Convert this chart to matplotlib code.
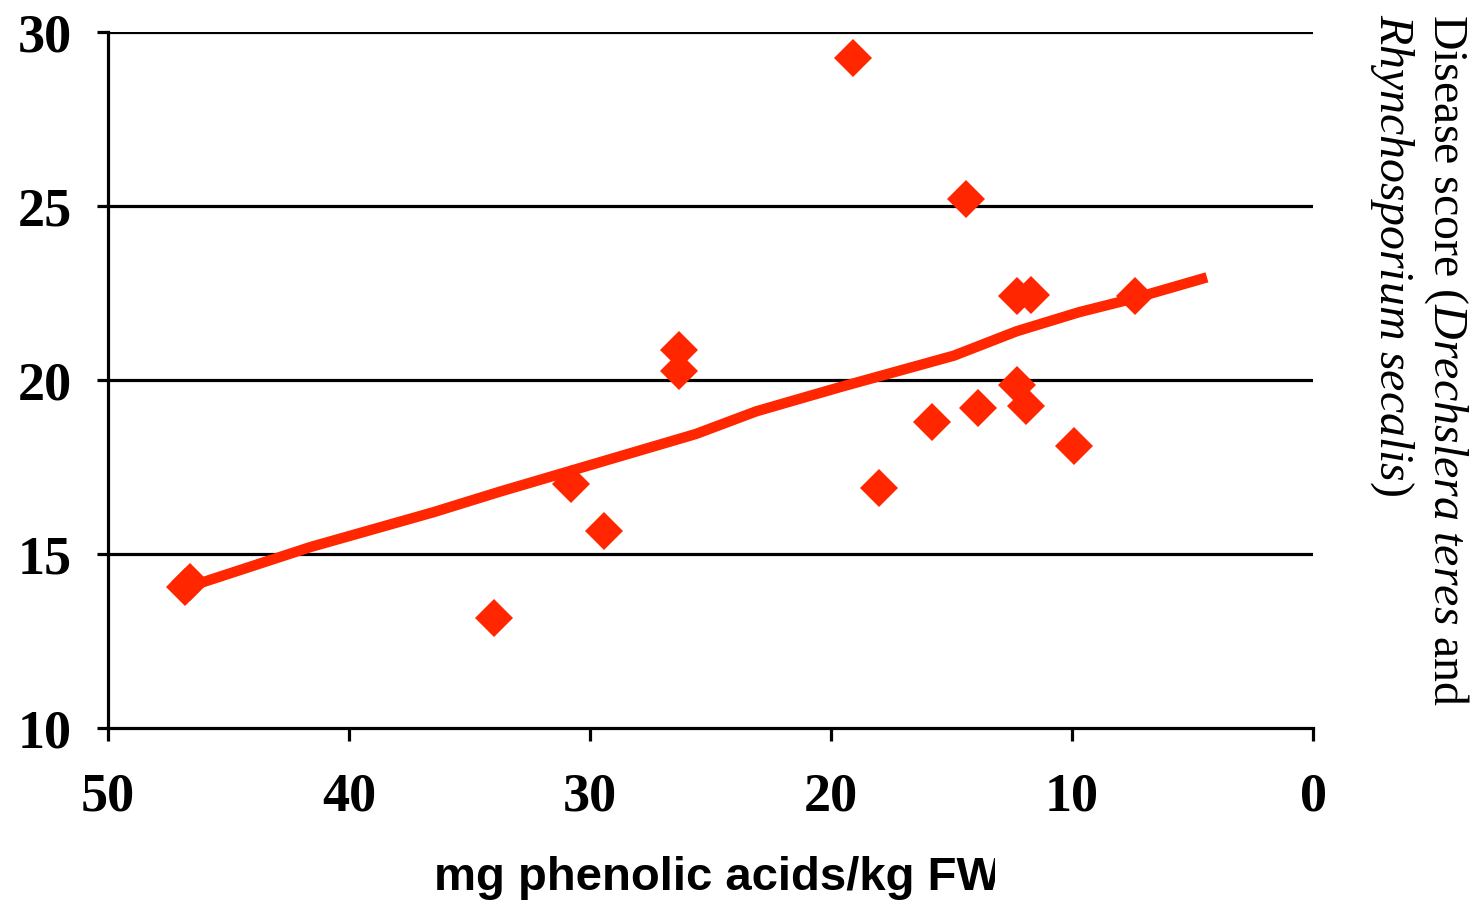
import matplotlib
matplotlib.use("Agg")
import matplotlib.pyplot as plt
from matplotlib.patches import Rectangle

# Phenolic acid content vs. disease score
phenolic = [46.6, 46.8, 34.0, 30.8, 29.4, 26.3, 26.3, 19.1, 18.0, 15.8,
            14.4, 13.9, 12.3, 11.7, 12.3, 11.9, 9.9, 7.4]
disease = [14.2, 14.05, 13.15, 17.0, 15.65, 20.85, 20.25, 29.25, 16.9, 18.8,
           25.2, 19.2, 22.4, 22.45, 19.85, 19.25, 18.1, 22.4]

# Fitted trend
trend_x = [46.9, 41.6, 36.5, 33.7, 25.6, 23.1, 19.6, 14.9, 12.3, 9.7, 7.4, 4.4]
trend_y = [14.0, 15.2, 16.2, 16.8, 18.45, 19.1, 19.8, 20.7, 21.4, 21.95, 22.35, 22.95]

x_ticks = [50, 40, 30, 20, 10, 0]
y_ticks = [10, 15, 20, 25, 30]

red = "#FF2600"

plt.rcParams["mathtext.fontset"] = "custom"
plt.rcParams["mathtext.rm"] = "Liberation Serif"
plt.rcParams["mathtext.it"] = "Liberation Serif:italic"

fig = plt.figure(figsize=(14.7, 9.03), dpi=100)
ax = fig.add_axes([108 / 1470, 1 - 729 / 903, (1313 - 108) / 1470, (729 - 33) / 903])

ax.set_xlim(50, 0)
ax.set_ylim(10, 30)
ax.set_xticks(x_ticks)
ax.set_yticks(y_ticks)

for v in y_ticks[1:]:
    ax.axhline(v, color="black", lw=2.3, zorder=1)

ax.plot(trend_x, trend_y, color=red, lw=7.5, zorder=3, solid_capstyle="butt")
ax.plot(phenolic, disease, linestyle="none", marker="D", ms=19,
        color=red, markeredgewidth=0, zorder=4)

for s in ["top", "right"]:
    ax.spines[s].set_visible(False)
for s in ["left", "bottom"]:
    ax.spines[s].set_linewidth(2.3)
    ax.spines[s].set_color("black")

ax.tick_params(axis="both", direction="out", width=2.3, color="black")
ax.tick_params(axis="y", length=8, pad=18)
ax.tick_params(axis="x", length=9, pad=22)

for lab in ax.get_xticklabels() + ax.get_yticklabels():
    lab.set_fontfamily("Liberation Serif")
    lab.set_fontweight("bold")
    lab.set_fontsize(39)

# Bottom axis title, cut off at the right as in the original layout
clip = Rectangle((0, 0), 995 / 1470, 1, transform=fig.transFigure, visible=False)
fig.add_artist(clip)
xt = fig.text(718 / 1470, 1 - 878 / 903, "mg phenolic acids/kg FW",
              family="Liberation Sans", weight="bold", fontsize=34,
              ha="center", va="center")
xt.set_clip_path(clip)
xt.set_clip_on(True)

# Right-hand axis title, two lines reading top to bottom
fig.text(1446 / 1470, 1 - 14 / 903,
         r"Disease score ($\mathit{Drechslera\ teres}$ and",
         family="Liberation Serif", fontsize=34.5, rotation=-90,
         ha="center", va="top")
fig.text(1392 / 1470, 1 - 14 / 903,
         r"$\mathit{Rhynchosporium\ secalis}$)",
         family="Liberation Serif", fontsize=34.5, rotation=-90,
         ha="center", va="top")

fig.savefig("out.png", dpi=100)
